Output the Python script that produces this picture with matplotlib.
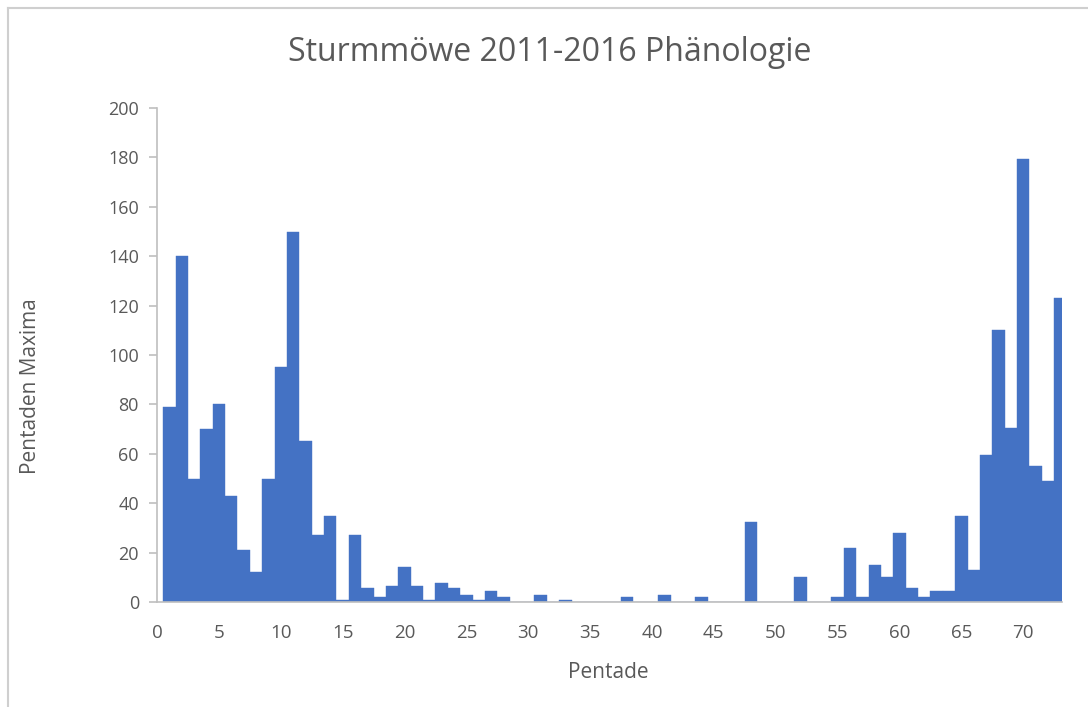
import matplotlib.pyplot as plt
from matplotlib.lines import Line2D

# --- Data: Pentaden-Maxima der Sturmmöwe, Pentade 1..73 ---
pentade = list(range(1, 74))
maxima = [
    79, 140, 50, 70, 80, 43, 21, 12, 50, 95,     # 1-10
    150, 65, 27, 35, 1, 27, 5.5, 2, 6.5, 14,     # 11-20
    6.5, 1, 7.5, 5.5, 3, 1, 4.5, 2, 0, 0,        # 21-30
    3, 0, 1, 0, 0, 0, 0, 2, 0, 0,                # 31-40
    3, 0, 0, 2, 0, 0, 0, 32.5, 0, 0,             # 41-50
    0, 10, 0, 0, 2, 22, 2, 15, 10, 28,           # 51-60
    5.5, 2, 4.5, 4.5, 35, 13, 59.5, 110, 70.5, 179.5,  # 61-70
    55, 49, 123,                                  # 71-73
]
x_ticks = list(range(0, 71, 5))
y_ticks = list(range(0, 201, 20))

text_col = "#595959"
axis_col = "#bfbfbf"
bar_col = "#4472C4"
plt.rcParams['font.family'] = ['Open Sans', 'DejaVu Sans']

fig = plt.figure(figsize=(10.88, 7.07), dpi=100)
ax = fig.add_axes([0.1443, 0.1485, 0.832, 0.6987])

# --- outer chart frame (left and top edge only, rest is cut off) ---
fig.add_artist(Line2D([0.0075, 0.0075], [0.0, 0.988], transform=fig.transFigure,
                      color="#cfcfcf", linewidth=1.5))
fig.add_artist(Line2D([0.0075, 1.0], [0.988, 0.988], transform=fig.transFigure,
                      color="#cfcfcf", linewidth=1.5))

ax.bar(pentade, maxima, width=1.0, color=bar_col, edgecolor=bar_col, linewidth=0.3)

ax.set_xlim(0, 73.15)
ax.set_ylim(0, 200)
ax.set_xticks(x_ticks)
ax.set_yticks(y_ticks)

for side in ["top", "right"]:
    ax.spines[side].set_visible(False)
for side in ["left", "bottom"]:
    ax.spines[side].set_color(axis_col)
    ax.spines[side].set_linewidth(1.2)

ax.tick_params(axis="y", colors=axis_col, labelcolor=text_col, labelsize=13,
               length=6, width=1.2, pad=7)
ax.tick_params(axis="x", colors=axis_col, labelcolor=text_col, labelsize=13.5,
               length=0, pad=16)

fig.text(0.505, 0.926, "Sturmmöwe 2011-2016 Phänologie", fontsize=23,
         color=text_col, ha="center", va="center")
fig.text(0.559, 0.049, "Pentade", fontsize=15, color=text_col,
         ha="center", va="center")
fig.text(0.028, 0.454, "Pentaden Maxima", fontsize=15, color=text_col,
         ha="center", va="center", rotation=90)

fig.savefig("out.png", dpi=100)
